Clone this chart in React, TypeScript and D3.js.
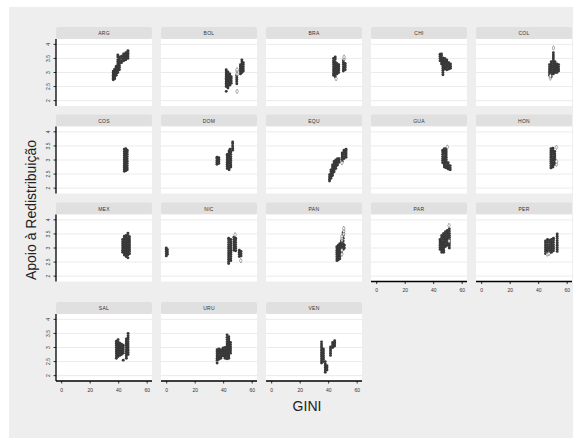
import React from "react";
import * as d3 from "d3";

type Column = [number, number[]]; // [GINI, apoio values observed at that GINI]

const COUNTRIES = ["ARG", "BOL", "BRA", "CHI", "COL", "COS", "DOM", "EQU", "GUA", "HON", "MEX", "NIC", "PAN", "PAR", "PER", "SAL", "URU", "VEN"];
const X_TICKS = [0, 20, 40, 60];
const Y_TICKS = [2, 2.5, 3, 3.5, 4];
const X_TITLE = "GINI";
const Y_TITLE = "Apoio à Redistribuição";

const ARG: Column[] = [
  [36.2, [2.74, 2.8, 2.85, 2.9, 2.95, 3.0, 3.05]],
  [37.2, [2.78, 2.84, 2.9, 2.96, 3.02, 3.08, 3.12]],
  [38.3, [2.9, 2.97, 3.04, 3.1, 3.17, 3.22]],
  [39.4, [3.0, 3.08, 3.15, 3.22, 3.3, 3.38, 3.45, 3.55, 3.62]],
  [40.5, [3.1, 3.18, 3.25, 3.32, 3.4, 3.48, 3.55]],
  [42.0, [3.35, 3.42, 3.5, 3.58]],
  [43.5, [3.42, 3.48, 3.55, 3.62, 3.66]],
  [45.0, [3.45, 3.52, 3.58, 3.65, 3.7]],
  [46.5, [3.5, 3.56, 3.62, 3.68, 3.74, 3.77]],
];
const BOL: Column[] = [
  [41.8, [2.33, 2.5, 2.56, 2.62, 2.68, 2.74, 2.8, 2.86, 2.92, 2.98, 3.05, 3.1]],
  [43.0, [2.45, 2.52, 2.6, 2.66, 2.72, 2.78, 2.84, 2.9, 2.96, 3.02]],
  [44.3, [2.55, 2.62, 2.7, 2.76, 2.82, 2.88, 2.95]],
  [45.3, [2.62, 2.7, 2.78, 2.85]],
  [49.2, [2.6, 2.68, 2.75, 2.82, 2.9]],
  [51.8, [2.95, 3.02, 3.08, 3.15, 3.22, 3.28]],
  [52.8, [3.0, 3.08, 3.15, 3.22, 3.3, 3.38, 3.45]],
  [53.8, [3.05, 3.12, 3.2, 3.28, 3.35]],
];
const BRA: Column[] = [
  [43.4, [2.9, 2.97, 3.05, 3.12, 3.2, 3.28, 3.35, 3.42, 3.5]],
  [44.6, [2.85, 2.92, 3.0, 3.08, 3.15, 3.22, 3.3, 3.38, 3.48, 3.55]],
  [45.8, [2.95, 3.02, 3.1, 3.18, 3.25, 3.32]],
  [47.0, [3.0, 3.08, 3.15, 3.22, 3.28]],
  [50.3, [3.05, 3.12, 3.2, 3.28, 3.35, 3.42]],
  [51.6, [3.1, 3.18, 3.25, 3.32]],
];
const CHI: Column[] = [
  [44.5, [3.42, 3.5, 3.58, 3.65]],
  [45.5, [3.3, 3.38, 3.45, 3.52, 3.6, 3.66]],
  [46.5, [2.92, 3.0, 3.08, 3.15, 3.22, 3.3, 3.38, 3.45, 3.52]],
  [47.8, [3.12, 3.2, 3.28, 3.35, 3.42, 3.5]],
  [49.2, [3.1, 3.18, 3.25, 3.32, 3.4, 3.45]],
  [50.6, [3.12, 3.2, 3.28, 3.35]],
  [51.8, [3.15, 3.22, 3.3]],
];
const COL: Column[] = [
  [47.6, [2.9, 2.98, 3.05, 3.12, 3.2, 3.28]],
  [48.8, [2.85, 2.92, 3.0, 3.08, 3.15, 3.22, 3.3, 3.38]],
  [50.3, [2.95, 3.02, 3.1, 3.18, 3.25, 3.32, 3.4, 3.48, 3.55, 3.62, 3.7]],
  [51.5, [3.0, 3.08, 3.15, 3.22, 3.3, 3.38]],
  [52.8, [3.0, 3.08, 3.15, 3.22, 3.3]],
  [54.0, [3.05, 3.12, 3.2, 3.28]],
];
const COS: Column[] = [
  [44.0, [2.6, 2.67, 2.74, 2.81, 2.88, 2.95, 3.02, 3.09, 3.16, 3.23, 3.3, 3.38]],
  [45.0, [2.62, 2.7, 2.78, 2.86, 2.94, 3.02, 3.1, 3.18, 3.26, 3.34, 3.4]],
  [46.0, [2.65, 2.72, 2.8, 2.88, 2.96, 3.04, 3.12, 3.2, 3.28, 3.35]],
];
const DOM: Column[] = [
  [35.3, [2.85, 2.92, 2.98, 3.05, 3.1]],
  [36.6, [2.88, 2.95, 3.02, 3.08]],
  [42.5, [2.7, 2.78, 2.85, 2.92, 3.0, 3.08, 3.15, 3.2]],
  [43.8, [2.65, 2.72, 2.8, 2.88, 2.95, 3.02, 3.1, 3.18, 3.25, 3.32]],
  [45.0, [2.75, 2.82, 2.9, 2.98, 3.05, 3.12, 3.2, 3.28]],
  [44.5, [3.3, 3.38]],
  [46.3, [3.35, 3.42, 3.5, 3.58, 3.64]],
];
const EQU: Column[] = [
  [40.6, [2.25, 2.32, 2.4, 2.48]],
  [41.6, [2.35, 2.42, 2.5, 2.58, 2.65]],
  [42.7, [2.45, 2.52, 2.6, 2.68, 2.75, 2.82]],
  [43.8, [2.58, 2.65, 2.72, 2.8, 2.88, 2.95]],
  [45.0, [2.7, 2.78, 2.85, 2.92, 3.0]],
  [46.2, [2.82, 2.9, 2.98, 3.05]],
  [47.3, [2.92, 3.0, 3.05]],
  [49.5, [2.95, 3.02, 3.1, 3.18, 3.25]],
  [50.8, [3.05, 3.12, 3.2, 3.28, 3.35]],
  [52.2, [3.1, 3.18, 3.25, 3.32, 3.38]],
];
const GUA: Column[] = [
  [46.3, [2.9, 2.98, 3.05, 3.12, 3.2, 3.28, 3.35]],
  [47.5, [2.75, 2.82, 2.9, 2.98, 3.05, 3.12, 3.2, 3.28, 3.35, 3.4]],
  [48.8, [2.72, 2.8, 2.88, 2.95, 3.02, 3.1, 3.18, 3.25, 3.32, 3.4]],
  [50.2, [2.68, 2.75, 2.82, 2.9]],
  [51.6, [2.65, 2.72, 2.8]],
];
const HON: Column[] = [
  [48.6, [2.72, 2.8, 2.88, 2.95, 3.02, 3.1, 3.18, 3.25, 3.32, 3.4]],
  [50.0, [2.75, 2.82, 2.9, 2.98, 3.05, 3.12, 3.2, 3.28, 3.35, 3.42]],
  [51.3, [2.85, 2.92, 3.0, 3.08, 3.15, 3.22, 3.3]],
];
const MEX: Column[] = [
  [42.8, [2.85, 2.92, 3.0, 3.08, 3.15, 3.22, 3.3]],
  [44.0, [2.75, 2.82, 2.9, 2.98, 3.05, 3.12, 3.2, 3.28, 3.35, 3.42]],
  [45.3, [2.7, 2.78, 2.85, 2.92, 3.0, 3.08, 3.15, 3.22, 3.3, 3.38, 3.45]],
  [46.5, [2.65, 2.75, 2.82, 2.9, 2.98, 3.05, 3.12, 3.2, 3.28, 3.36, 3.45, 3.53]],
  [47.6, [2.8, 2.88, 2.95, 3.02, 3.1, 3.18, 3.25, 3.32, 3.4]],
];
const NIC: Column[] = [
  [-0.3, [2.72, 2.8, 2.88, 2.95, 3.0]],
  [0.5, [2.78, 2.86, 2.94]],
  [43.5, [2.45, 2.52, 2.6, 2.68, 2.75, 2.82, 2.9, 2.98, 3.05, 3.12, 3.2, 3.28, 3.35]],
  [45.0, [2.55, 2.62, 2.7, 2.78, 2.85, 2.92, 3.0, 3.08, 3.15, 3.22, 3.3]],
  [47.2, [2.92, 3.0, 3.08, 3.15, 3.22, 3.3, 3.38]],
  [48.4, [2.9, 2.98, 3.05, 3.12, 3.2, 3.28, 3.35]],
  [51.0, [2.7, 2.78, 2.85, 2.92]],
  [52.2, [2.72, 2.8, 2.88]],
];
const PAN: Column[] = [
  [45.8, [2.55, 2.62, 2.7, 2.78, 2.85, 2.92, 3.0, 3.05]],
  [46.8, [2.58, 2.65, 2.72, 2.8, 2.88, 2.95, 3.02, 3.1]],
  [47.8, [2.62, 2.7, 2.78, 2.85, 2.92, 3.0, 3.08, 3.15]],
  [48.9, [2.8, 2.88, 2.95, 3.02, 3.1, 3.18, 3.25]],
  [50.2, [2.95, 3.05, 3.15, 3.25, 3.35, 3.45, 3.55]],
  [51.0, [3.0, 3.1]],
];
const PAR: Column[] = [
  [44.5, [2.95, 3.02, 3.1, 3.18, 3.25, 3.3]],
  [45.7, [2.85, 2.92, 3.0, 3.08, 3.15, 3.22, 3.3, 3.38, 3.45]],
  [47.0, [2.85, 2.92, 3.0, 3.08, 3.15, 3.22, 3.3, 3.38, 3.45, 3.52]],
  [48.3, [3.05, 3.12, 3.2, 3.28, 3.35, 3.42, 3.5, 3.58]],
  [49.6, [3.1, 3.18, 3.25, 3.32, 3.4, 3.48, 3.55, 3.62]],
  [51.0, [3.0, 3.08, 3.15, 3.22, 3.3, 3.38, 3.45, 3.52, 3.6, 3.68]],
];
const PER: Column[] = [
  [44.8, [2.8, 2.88, 2.95, 3.02, 3.1, 3.18, 3.25]],
  [46.2, [2.82, 2.9, 2.97, 3.04, 3.12, 3.2, 3.28, 3.3]],
  [47.6, [2.82, 2.9, 2.98, 3.05, 3.12, 3.2, 3.28]],
  [49.0, [2.85, 2.92, 3.0, 3.08, 3.15, 3.22, 3.3]],
  [50.4, [2.9, 2.98, 3.05, 3.12, 3.2, 3.28, 3.35]],
  [53.0, [2.88, 2.95, 3.02, 3.1, 3.18, 3.26, 3.34, 3.42, 3.5]],
];
const SAL: Column[] = [
  [38.4, [2.62, 2.7, 2.78, 2.85, 2.92, 3.0, 3.08, 3.15, 3.22]],
  [39.6, [2.68, 2.75, 2.82, 2.9, 2.98, 3.05, 3.12, 3.2, 3.28]],
  [40.8, [2.72, 2.8, 2.88, 2.95, 3.02, 3.1, 3.15]],
  [42.0, [2.75, 2.82, 2.9, 2.98, 3.05, 3.12]],
  [43.2, [2.55, 2.8, 2.88, 2.95, 3.02, 3.08]],
  [45.4, [2.62, 2.7, 2.78, 2.85, 2.92, 3.0, 3.08, 3.15, 3.22, 3.3]],
  [46.6, [2.75, 2.82, 2.9, 2.98, 3.05, 3.12, 3.2, 3.28, 3.35, 3.42, 3.5]],
];
const URU: Column[] = [
  [35.4, [2.45, 2.55, 2.62, 2.7, 2.78, 2.85, 2.92]],
  [36.6, [2.58, 2.65, 2.72, 2.8, 2.88, 2.95]],
  [38.0, [2.62, 2.7, 2.78, 2.85, 2.92]],
  [39.6, [2.7, 2.78, 2.85, 2.92, 2.98]],
  [41.0, [2.62, 2.7, 2.78, 2.85, 2.92, 3.0]],
  [42.4, [2.6, 2.68, 2.75, 2.82, 2.9, 2.98, 3.05, 3.12, 3.2, 3.28, 3.36, 3.45]],
  [43.6, [2.62, 2.7, 2.78, 2.85, 2.92, 3.0, 3.08, 3.15, 3.22, 3.3, 3.38]],
  [44.8, [2.8, 2.88, 2.95, 3.02, 3.1, 3.18]],
];
const VEN: Column[] = [
  [35.0, [2.45, 2.52, 2.6, 2.68, 2.75, 2.82, 2.9, 2.98, 3.05, 3.12, 3.2]],
  [36.3, [2.5, 2.58, 2.65, 2.72, 2.8, 2.88, 2.95]],
  [37.6, [2.12, 2.2, 2.28, 2.35, 2.42, 2.5]],
  [38.8, [2.2, 2.28, 2.35]],
  [41.3, [2.72, 2.8, 2.88, 2.95, 3.02]],
  [42.8, [3.0, 3.06, 3.12, 3.18]],
  [44.2, [3.05, 3.12, 3.18, 3.24]],
];

// Observations drawn as open diamonds
const OPEN_BOL: Column[] = [[49.4, [2.33, 2.95, 3.05, 3.1]]];
const OPEN_BRA: Column[] = [[45.2, [2.78]], [50.8, [3.48, 3.55]]];
const OPEN_COL: Column[] = [[50.4, [3.87]], [48.2, [2.8, 2.88]]];
const OPEN_EQU: Column[] = [[49.3, [2.9]]];
const OPEN_GUA: Column[] = [[49.6, [3.46]]];
const OPEN_HON: Column[] = [[52.5, [2.85, 2.95, 3.45]]];
const OPEN_NIC: Column[] = [[48.0, [3.47]], [52.0, [2.55]]];
const OPEN_PAN: Column[] = [[49.3, [2.78, 2.92, 3.28, 3.35, 3.42]], [50.6, [3.5, 3.6, 3.7]]];
const OPEN_PAR: Column[] = [[50.8, [3.8, 3.25]]];
const OPEN_PER: Column[] = [[46.0, [2.78]], [47.2, [2.8]]];

const FILLED: Record<string, Column[]> = { ARG, BOL, BRA, CHI, COL, COS, DOM, EQU, GUA, HON, MEX, NIC, PAN, PAR, PER, SAL, URU, VEN };
const OPEN: Record<string, Column[]> = {
  BOL: OPEN_BOL, BRA: OPEN_BRA, COL: OPEN_COL, EQU: OPEN_EQU, GUA: OPEN_GUA,
  HON: OPEN_HON, NIC: OPEN_NIC, PAN: OPEN_PAN, PAR: OPEN_PAR, PER: OPEN_PER,
};

const W = 580;
const H = 441;
const NCOL = 5;
const PANEL_W = 96;
const PANEL_H = 67;
const STRIP_H = 12;
const COL_LEFT = [56, 161, 266, 371, 476];
const ROW_TOP = [39, 126.5, 214.5, 314];
const FONT = "'Liberation Sans', Arial, sans-serif";

const x = d3.scaleLinear().domain([-4, 63.4]).range([0, PANEL_W]);
const y = d3.scaleLinear().domain([1.81, 4.19]).range([PANEL_H, 0]);

const flatten = (cols: Column[] | undefined) =>
  (cols ?? []).flatMap(([g, ys]) => ys.map((v) => ({ g, v })));

function Panel({ name, index }: { name: string; index: number }) {
  const col = index % NCOL;
  const row = Math.floor(index / NCOL);
  const left = COL_LEFT[col];
  const top = ROW_TOP[row];
  const hasYAxis = col === 0;
  const below = index + NCOL;
  const hasXAxis = below >= COUNTRIES.length;
  const pts = flatten(FILLED[name]);
  const open = flatten(OPEN[name]);
  const diamond = d3.symbol().type(d3.symbolDiamond).size(6)()!;

  return (
    <g transform={`translate(${left},${top})`}>
      <rect x={0} y={-STRIP_H} width={PANEL_W} height={STRIP_H} fill="#e0e0e0" rx={2} />
      <text x={PANEL_W / 2} y={-STRIP_H / 2} textAnchor="middle" dominantBaseline="central"
        fontSize={5} fill="#333" fontFamily={FONT} letterSpacing={0.3}>{name}</text>
      <rect x={0} y={0} width={PANEL_W} height={PANEL_H} fill="#ffffff" />
      {Y_TICKS.map((t) => (
        <line key={t} x1={0} x2={PANEL_W} y1={y(t)} y2={y(t)} stroke="#ebebeb" strokeWidth={1} />
      ))}
      {pts.map((p, i) => (
        <circle key={i} cx={x(p.g)} cy={y(p.v)} r={1.45} fill="#383838" />
      ))}
      {open.map((p, i) => (
        <path key={`o${i}`} d={diamond} transform={`translate(${x(p.g)},${y(p.v)})`}
          fill="#ffffff" stroke="#555" strokeWidth={0.5} />
      ))}
      {hasYAxis && (
        <g>
          <line x1={0} x2={0} y1={0} y2={PANEL_H} stroke="#000" strokeWidth={1.3} />
          {Y_TICKS.map((t) => (
            <g key={t}>
              <line x1={-2.5} x2={0} y1={y(t)} y2={y(t)} stroke="#000" strokeWidth={0.8} />
              <text transform={`translate(${-8.5},${y(t)}) rotate(-90)`} textAnchor="middle"
                dominantBaseline="central" fontSize={5} fill="#333" fontFamily={FONT}>{t}</text>
            </g>
          ))}
        </g>
      )}
      {hasXAxis && (
        <g>
          <line x1={0} x2={PANEL_W} y1={PANEL_H} y2={PANEL_H} stroke="#000" strokeWidth={1.3} />
          {X_TICKS.map((t) => (
            <g key={t}>
              <line x1={x(t)} x2={x(t)} y1={PANEL_H} y2={PANEL_H + 2.5} stroke="#000" strokeWidth={0.8} />
              <text x={x(t)} y={PANEL_H + 8.5} textAnchor="middle" dominantBaseline="central"
                fontSize={5} fill="#333" fontFamily={FONT}>{t}</text>
            </g>
          ))}
        </g>
      )}
    </g>
  );
}

export default function App() {
  return (
    <svg width={W} height={H} style={{ position: "absolute", left: 0, top: 0, display: "block" }}>
      <rect x={0} y={0} width={W} height={H} fill="#ffffff" />
      <rect x={9} y={7} width={564} height={431} fill="#eeeeee" />
      {COUNTRIES.map((c, i) => (
        <Panel key={c} name={c} index={i} />
      ))}
      <text transform="translate(31,210) rotate(-90)" textAnchor="middle" dominantBaseline="central"
        fontSize={14} fill="#222" fontFamily={FONT}>{Y_TITLE}</text>
      <text x={307} y={406} textAnchor="middle" dominantBaseline="central"
        fontSize={14} fill="#222" fontFamily={FONT}>{X_TITLE}</text>
    </svg>
  );
}
